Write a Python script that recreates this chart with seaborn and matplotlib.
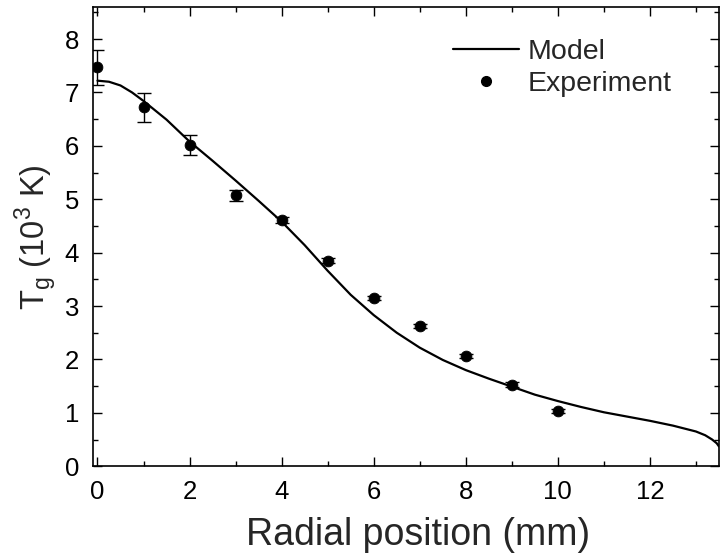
import matplotlib
matplotlib.use("Agg")
import matplotlib.pyplot as plt
import seaborn as sns
import numpy as np
import pandas as pd
from matplotlib.ticker import MultipleLocator
from matplotlib.lines import Line2D

# Experimental data
exp_x = [0, 1, 2, 3, 4, 5, 6, 7, 8, 9, 10]
exp_y = [7.47, 6.72, 6.01, 5.07, 4.61, 3.85, 3.15, 2.63, 2.07, 1.53, 1.04]
exp_err = [0.33, 0.27, 0.19, 0.10, 0.06, 0.05, 0.04, 0.04, 0.04, 0.04, 0.04]

# Model curve
model_x = [0, 0.25, 0.5, 0.75, 1, 1.5, 2, 2.5, 3, 3.5, 4, 4.5, 5, 5.5, 6, 6.5,
           7, 7.5, 8, 8.5, 9, 9.5, 10, 10.5, 11, 11.5, 12, 12.5, 13, 13.2,
           13.35, 13.45, 13.5]
model_y = [7.22, 7.2, 7.13, 7.0, 6.84, 6.49, 6.08, 5.72, 5.35, 4.97, 4.58, 4.14,
           3.66, 3.21, 2.83, 2.5, 2.22, 1.99, 1.80, 1.64, 1.49, 1.34, 1.22, 1.11,
           1.01, 0.93, 0.85, 0.76, 0.65, 0.58, 0.50, 0.43, 0.37]

sns.set_style("ticks")
plt.rcParams['font.family'] = ['Liberation Sans', 'DejaVu Sans']
plt.rcParams['mathtext.fontset'] = 'custom'
plt.rcParams['mathtext.rm'] = 'Liberation Sans'

fig = plt.figure(figsize=(7.2, 5.59), dpi=100)
ax = fig.add_axes([0.129, 0.166, 0.8696, 0.8215])

df_model = pd.DataFrame({"x": model_x, "y": model_y})
df_exp = pd.DataFrame({"x": exp_x, "y": exp_y})

sns.lineplot(data=df_model, x="x", y="y", ax=ax, color="black", lw=1.6,
             sort=False, estimator=None)
ax.errorbar(exp_x, exp_y, yerr=exp_err, fmt="none", ecolor="black",
            elinewidth=1.0, capsize=5, capthick=1.0)
sns.scatterplot(data=df_exp, x="x", y="y", ax=ax, color="black", s=60,
                edgecolor="black", zorder=5)

ax.set_xlim(-0.1, 13.5)
ax.set_ylim(0, 8.6)
ax.xaxis.set_major_locator(MultipleLocator(2))
ax.xaxis.set_minor_locator(MultipleLocator(1))
ax.yaxis.set_major_locator(MultipleLocator(1))
ax.yaxis.set_minor_locator(MultipleLocator(0.5))
ax.tick_params(which="both", direction="in", top=True, right=True,
               width=1.0, colors="black")
ax.tick_params(which="major", length=6.5, labelsize=18.5, pad=10)
ax.tick_params(which="minor", length=3.5)
for sp in ax.spines.values():
    sp.set_linewidth(1.2)
    sp.set_color("black")

ax.set_xlabel("Radial position (mm)", fontsize=27, labelpad=9)
ax.xaxis.set_label_coords(0.52, -0.11, transform=ax.transAxes)
ax.xaxis.label.set_va("top")
ax.set_ylabel(r"T$_{\rm g}$ (10$^{3}$ K)", fontsize=23.5, labelpad=5)

handles = [Line2D([0], [0], color="black", lw=1.6),
           Line2D([0], [0], color="black", marker="o", ls="none", markersize=7)]
ax.legend(handles, ["Model", "Experiment"], loc="upper right", frameon=False,
          fontsize=20.5, handlelength=2.3, handletextpad=0.3, labelspacing=0.2,
          bbox_to_anchor=(0.956, 0.974), borderaxespad=0.3)

fig.savefig("out.png", dpi=100)
